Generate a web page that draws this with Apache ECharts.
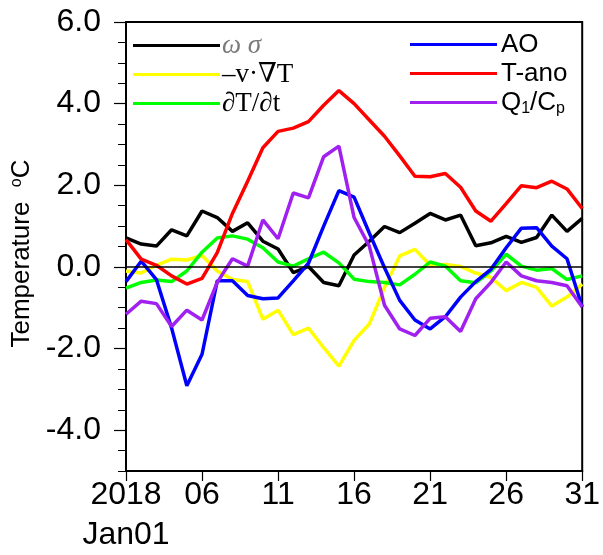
<!DOCTYPE html>
<html>
<head>
<meta charset="utf-8">
<script src="https://cdn.jsdelivr.net/npm/echarts@6/dist/echarts.min.js"></script>
<style>
  html, body { margin: 0; padding: 0; background: #fff; }
  #chart { width: 603px; height: 555px; }
</style>
</head>
<body>
<div id="chart"></div>
<script>
// Days of January 2018
const days = ['01','02','03','04','05','06','07','08','09','10','11','12','13','14','15','16',
              '17','18','19','20','21','22','23','24','25','26','27','28','29','30','31'];

// Temperature budget terms (°C)
const omegaSigma = [0.71,0.56,0.51,0.91,0.76,1.37,1.21,0.87,1.08,0.63,0.44,-0.14,0.01,-0.38,-0.46,0.29,
                    0.63,0.99,0.84,1.07,1.31,1.15,1.27,0.52,0.59,0.75,0.60,0.72,1.27,0.87,1.19];
const advection  = [-0.10,-0.15,0.04,0.19,0.17,0.28,-0.10,-0.31,-0.36,-1.28,-1.06,-1.66,-1.50,-1.98,-2.43,-1.80,
                    -1.40,-0.50,0.27,0.43,0.04,0.06,0.01,-0.15,-0.26,-0.58,-0.38,-0.50,-0.96,-0.74,-0.42];
const tendency   = [-0.52,-0.38,-0.32,-0.36,-0.10,0.36,0.71,0.76,0.68,0.47,0.12,0.02,0.20,0.36,0.10,-0.30,
                    -0.36,-0.38,-0.44,-0.18,0.12,0.02,-0.34,-0.39,-0.10,0.31,0.02,-0.08,-0.04,-0.31,-0.22];
const aoIndex    = [-0.36,0.14,-0.31,-1.50,-2.91,-2.14,-0.34,-0.34,-0.70,-0.78,-0.76,-0.34,0.09,1.00,1.87,1.71,
                    0.83,-0.02,-0.82,-1.30,-1.52,-1.22,-0.74,-0.36,-0.06,0.47,0.95,0.96,0.51,0.20,-0.98];
const tAnomaly   = [0.67,0.19,0.04,-0.22,-0.42,-0.28,0.35,1.31,2.10,2.92,3.32,3.40,3.56,3.96,4.32,4.00,
                    3.60,3.20,2.72,2.22,2.21,2.29,1.95,1.37,1.12,1.55,1.99,1.94,2.10,1.91,1.43];
const heating    = [-1.16,-0.84,-0.90,-1.46,-1.06,-1.30,-0.38,0.20,0.02,1.15,0.69,1.81,1.69,2.70,2.96,1.21,
                    0.51,-0.94,-1.52,-1.68,-1.26,-1.22,-1.58,-0.78,-0.38,0.12,-0.22,-0.34,-0.38,-0.46,-0.98];

// Labelled y ticks
const yTicks = [-4, -2, 0, 2, 4, 6];

const SANS = '"Liberation Sans", Arial, Helvetica, sans-serif';
const SERIF = '"Liberation Serif", "DejaVu Serif", "Times New Roman", serif';

const chart = echarts.init(document.getElementById('chart'), null, { renderer: 'canvas' });

function line(name, data, color, extra) {
  return Object.assign({
    name: name,
    type: 'line',
    data: data,
    symbol: 'none',
    smooth: false,
    lineStyle: { color: color, width: 3.5 },
    itemStyle: { color: color },
    animation: false
  }, extra || {});
}

const option = {
  animation: false,
  backgroundColor: '#fff',
  grid: {
    left: 126, right: 19, top: 22, bottom: 76,
    show: true, borderColor: '#000', borderWidth: 2, backgroundColor: 'transparent'
  },
  legend: [
    {
      data: ['ωσ', '–v·∇T', '∂T/∂t'],
      orient: 'vertical',
      left: 133, top: 31, padding: 0,
      icon: 'rect',
      itemWidth: 87, itemHeight: 3, itemGap: 0,
      textStyle: { fontFamily: SERIF, fontSize: 27, lineHeight: 29, color: '#000', padding: [0, 0, 0, -3],
        rich: { g: { fontFamily: SERIF, fontSize: 27, fontStyle: 'italic', color: '#7a7a7a', lineHeight: 29 } } },
      formatter: function (n) { return n === 'ωσ' ? '{g|ω σ}' : n; }
    },
    {
      data: ['AO', 'T-ano', 'Q1/Cp'],
      orient: 'vertical',
      left: 410, top: 30, padding: 0,
      icon: 'rect',
      itemWidth: 87, itemHeight: 3, itemGap: 0,
      textStyle: { fontFamily: SANS, fontSize: 26, lineHeight: 29, color: '#000', padding: [0, 0, 0, -1],
        rich: {
          t: { fontFamily: SANS, fontSize: 26, color: '#000', lineHeight: 29 },
          s: { fontFamily: SANS, fontSize: 16, color: '#000', lineHeight: 29, verticalAlign: 'bottom', padding: [8, 0, 0, 0] }
        } },
      formatter: function (n) { return n === 'Q1/Cp' ? '{t|Q}{s|1}{t|/C}{s|p}' : n; }
    }
  ],
  xAxis: {
    type: 'category',
    data: days,
    boundaryGap: false,
    axisLine: { onZero: false, lineStyle: { color: '#000', width: 2 } },
    axisTick: { interval: 4, length: 10, lineStyle: { color: '#000', width: 1.2 } },
    axisLabel: {
      interval: 4, margin: 4, fontSize: 32, lineHeight: 40, color: '#000', fontFamily: SANS,
      formatter: function (v, i) { return i === 0 ? '2018\nJan01' : v; }
    },
    splitLine: { show: false }
  },
  yAxis: [
    {
      type: 'value', min: -5, max: 6,
      name: 'Temperature  {sup|o}C',
      nameLocation: 'middle', nameRotate: 90, nameGap: 86,
      nameTextStyle: { fontFamily: SANS, fontSize: 26, color: '#000', padding: [0, 14, 0, 0],
        rich: { sup: { fontFamily: SANS, fontSize: 16, color: '#000', verticalAlign: 'top', padding: [0, 0, 10, 0] } } },
      axisLine: { show: true, onZero: false, lineStyle: { color: '#000', width: 2 } },
      axisTick: { show: true, customValues: yTicks, length: 12, lineStyle: { color: '#000', width: 1.2 } },
      axisLabel: { customValues: yTicks, margin: 25, fontSize: 32, color: '#000', fontFamily: SANS,
        formatter: function (v) { return v.toFixed(1); } },
      splitLine: { show: false }
    },
    {
      type: 'value', min: -5, max: 6, interval: 0.5, position: 'left',
      axisLine: { show: false, onZero: false },
      axisTick: { show: true, length: 8, lineStyle: { color: '#000', width: 1 } },
      axisLabel: { show: false },
      splitLine: { show: false }
    }
  ],
  series: [
    line('ωσ', omegaSigma, '#000000', {
      markLine: {
        silent: true, symbol: ['none', 'none'], label: { show: false },
        lineStyle: { color: '#000', width: 1.5, type: 'solid' },
        data: [{ yAxis: 0 }], animation: false
      }
    }),
    line('–v·∇T', advection, '#ffff00'),
    line('∂T/∂t', tendency, '#00ff00'),
    line('AO', aoIndex, '#0000ff'),
    line('T-ano', tAnomaly, '#ff0000'),
    line('Q1/Cp', heating, '#a020f0')
  ]
};

chart.setOption(option);
</script>
</body>
</html>
